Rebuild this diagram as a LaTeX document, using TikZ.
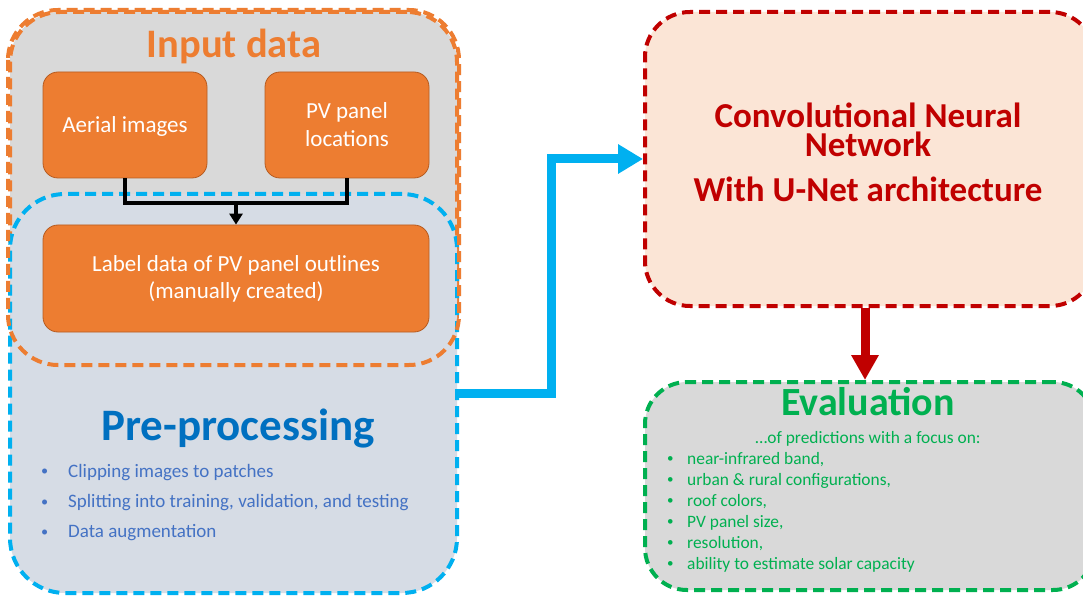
\documentclass[tikz,border=0pt]{standalone}
\usepackage{fontspec}
\setmainfont{Carlito}
\usetikzlibrary{arrows.meta}
\definecolor{cOrange}{HTML}{ED7D31}
\definecolor{cOrangeDk}{HTML}{B65B20}
\definecolor{cGray}{HTML}{D9D9D9}
\definecolor{cBlueGray}{HTML}{D6DCE5}
\definecolor{cBlue}{HTML}{00B0F0}
\definecolor{cBlueTxt}{HTML}{0070C0}
\definecolor{cBullet}{HTML}{4472C4}
\definecolor{cRed}{HTML}{C00000}
\definecolor{cPeach}{HTML}{FBE5D6}
\definecolor{cGreen}{HTML}{00B050}
\newcommand{\smallbul}{\raisebox{0.15ex}{\scalebox{0.75}{•}}}
\begin{document}
\begin{tikzpicture}[x=1pt,y=-1pt,
  bigbox/.style={rectangle, line width=4pt, dash pattern=on 11pt off 6pt, inner sep=0pt},
  orbox/.style={rectangle, fill=cOrange, draw=cOrangeDk, line width=0.8pt, rounded corners=15pt, inner sep=0pt},
  boxtext/.style={anchor=base, text=white, font=\fontsize{23}{27}\selectfont, inner sep=0pt},
  pretext/.style={anchor=base west, text=cBullet, font=\fontsize{19}{23}\selectfont, inner sep=0pt},
  evtext/.style={anchor=base west, text=cGreen, font=\fontsize{17.4}{21}\selectfont, inner sep=0pt},
  cnntext/.style={anchor=base, text=cRed, font=\fontsize{35}{40}\selectfont\bfseries, inner sep=0pt},
]
\fill[white] (0,0) rectangle (1083,601);
\clip (0,0) rectangle (1083,601);

% big containers
\node[bigbox, fill=cGray, draw=cOrange, rounded corners=50pt,
      minimum width=447pt, minimum height=351pt] (inp) at (233.5,187.5) {};
\node[bigbox, fill=cBlueGray, draw=cBlue, rounded corners=55pt,
      minimum width=447pt, minimum height=399pt] (pre) at (233.5,393.5) {};
\draw[line width=4pt, dash pattern=on 11pt off 6pt, draw=cOrange, rounded corners=50pt]
  (inp.north west) rectangle (inp.south east);

\node[bigbox, fill=cPeach, draw=cRed, rounded corners=45pt,
      minimum width=450pt, minimum height=294pt] (cnn) at (870,159) {};
\node[bigbox, fill=cGray, draw=cGreen, rounded corners=42pt,
      minimum width=450pt, minimum height=208pt] (eval) at (870,486) {};

% input data
\node[anchor=base, text=cOrange, font=\fontsize{40.5}{48}\selectfont\bfseries, inner sep=0pt] (tin) at (234,58) {Input data};
\node[orbox, minimum width=164pt, minimum height=106pt] (aer) at (125,125) {};
\node[orbox, minimum width=164pt, minimum height=106pt] (pv) at (347,125) {};
\node[orbox, minimum width=386pt, minimum height=107pt] (lab) at (236,278.5) {};
\node[boxtext] (taer) at (125,133) {Aerial images};
\node[boxtext] (tpv1) at (347,119) {PV panel};
\node[boxtext] (tpv2) at (347,147) {locations};
\node[boxtext] (tlab1) at (236,272) {Label data of PV panel outlines};
\node[boxtext] (tlab2) at (236,298.5) {(manually created)};

\coordinate (j) at (236,203);
\draw[line width=3.4pt, line join=miter] (aer.south) |- (j) -| (pv.south);
\draw[line width=3.4pt, -{Triangle[length=11pt,width=13pt]}] (j) -- (lab.north);

% pre-processing
\node[anchor=base, text=cBlueTxt, font=\fontsize{45}{52}\selectfont\bfseries, inner sep=0pt] (tpre) at (238,440) {Pre-processing};
\node[pretext] (pb1) at (41,477) {\makebox[27pt][l]{\smallbul}Clipping images to patches};
\node[pretext] (pb2) at (41,507.5) {\makebox[27pt][l]{\smallbul}Splitting into training, validation, and testing};
\node[pretext] (pb3) at (41,537.5) {\makebox[27pt][l]{\smallbul}Data augmentation};

% CNN
\node[cnntext] (c1) at (868,128) {Convolutional Neural};
\node[cnntext] (c2) at (868,157) {Network};
\node[cnntext] (c3) at (868,202) {With U-Net architecture};

% evaluation
\node[anchor=base, text=cGreen, font=\fontsize{40}{48}\selectfont\bfseries, inner sep=0pt] (tev) at (868,415) {Evaluation};
\node[anchor=base, text=cGreen, font=\fontsize{17.4}{21}\selectfont, inner sep=0pt] (tev0) at (868,443) {…of predictions with a focus on:};
\node[evtext] (e1) at (667,464) {\makebox[20pt][l]{\smallbul}near-infrared band,};
\node[evtext] (e2) at (667,485) {\makebox[20pt][l]{\smallbul}urban \& rural configurations,};
\node[evtext] (e3) at (667,506) {\makebox[20pt][l]{\smallbul}roof colors,};
\node[evtext] (e4) at (667,527) {\makebox[20pt][l]{\smallbul}PV panel size,};
\node[evtext] (e5) at (667,548) {\makebox[20pt][l]{\smallbul}resolution,};
\node[evtext] (e6) at (667,569) {\makebox[20pt][l]{\smallbul}ability to estimate solar capacity};

% connectors
\coordinate (bend) at (551,0);
\draw[cBlue, line width=9pt, line join=miter, -{Triangle[length=25pt,width=28pt]}]
  (pre.east) -| (bend |- cnn.west) -- (cnn.west);
\coordinate (rx) at (865,0);
\draw[cRed, line width=9pt, -{Triangle[length=25pt,width=26pt]}]
  (cnn.south -| rx) -- (eval.north -| rx);
\end{tikzpicture}
\end{document}
